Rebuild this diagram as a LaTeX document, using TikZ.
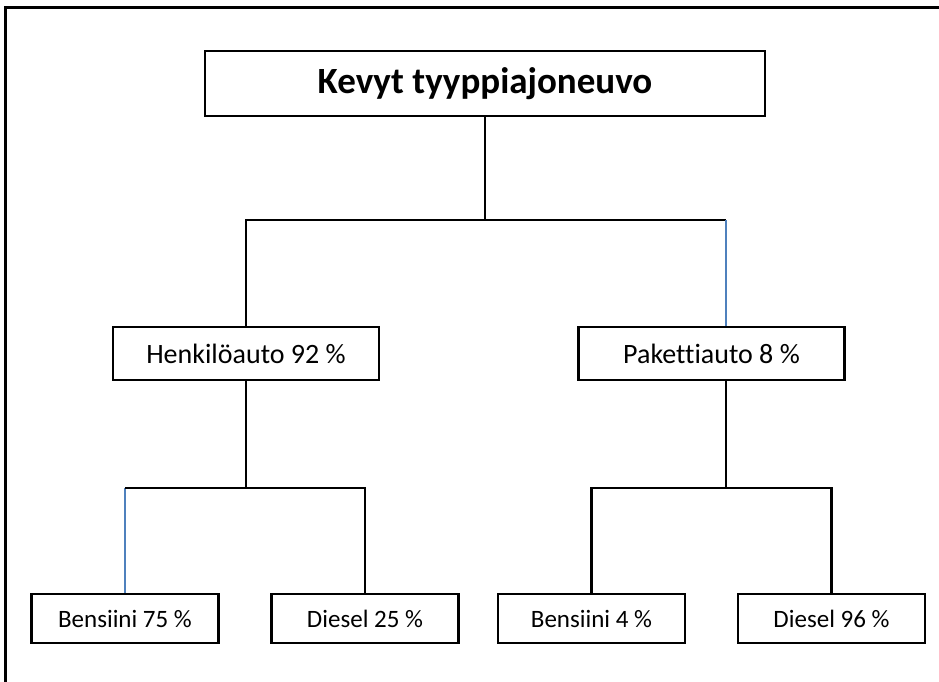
\documentclass[tikz,border=0pt]{standalone}
\usepackage{fontspec}
\setmainfont{Carlito}[Ligatures=NoCommon]
\usetikzlibrary{calc}
\definecolor{bleulien}{RGB}{79,129,189}
\tikzset{
	boite/.style={draw,line width=2.5pt,inner sep=0pt},
	racine/.style={boite,minimum width=560pt,minimum height=65pt,font=\fontsize{37}{41}\selectfont\bfseries},
	milieu/.style={boite,minimum width=266pt,minimum height=53pt,font=\fontsize{28}{32}\selectfont},
	feuille/.style={boite,minimum width=187pt,minimum height=49pt,font=\fontsize{25}{29}\selectfont},
	lien/.style={line width=2.5pt},
	lienbleu/.style={line width=2pt,bleulien}
}

\begin{document}
\begin{tikzpicture}[x=1pt,y=-1pt]
						\useasboundingbox (0,0) rectangle (939,681);
						% Cadre
						\draw [line width=3pt] (5,690) -- (5,7) -- (950,7);
						% Boites
						\node [racine] (kevyt) at (485,83.5) {Kevyt tyyppiajoneuvo};
						\node [milieu] (henk) at (246,353.5) {Henkilöauto 92 \%};
						\node [milieu] (pak) at (711.5,353.5) {Pakettiauto 8 \%};
						\node [feuille] (ben1) at (125,618.5) {Bensiini 75 \%};
						\node [feuille] (die1) at (365,618.5) {Diesel 25 \%};
						\node [feuille] (ben2) at (591.5,618.5) {Bensiini 4 \%};
						\node [feuille] (die2) at (831.5,618.5) {Diesel 96 \%};
						% Liens
						\coordinate (j1) at (485,220);
						\coordinate (xpak) at (726,0);
						\coordinate (j2) at (246,488);
						\coordinate (j3) at (726,488);
						\draw [lien] (kevyt.south) -- (j1);
						\draw [lien] (henk.north) |- (j1) -- (j1 -| xpak);
						\draw [lienbleu] (j1 -| xpak) -- (pak.north -| xpak);
						\draw [lien] (henk.south) -- (j2);
						\draw [lienbleu] (ben1.north) -- (ben1.north |- j2);
						\draw [lien] (ben1.north |- j2) -| (die1.north);
						\draw [lien] (pak.south -| xpak) -- (j3);
						\draw [lien] (ben2.north) |- (j3) -| (die2.north);
						\end{tikzpicture}
\end{document}
